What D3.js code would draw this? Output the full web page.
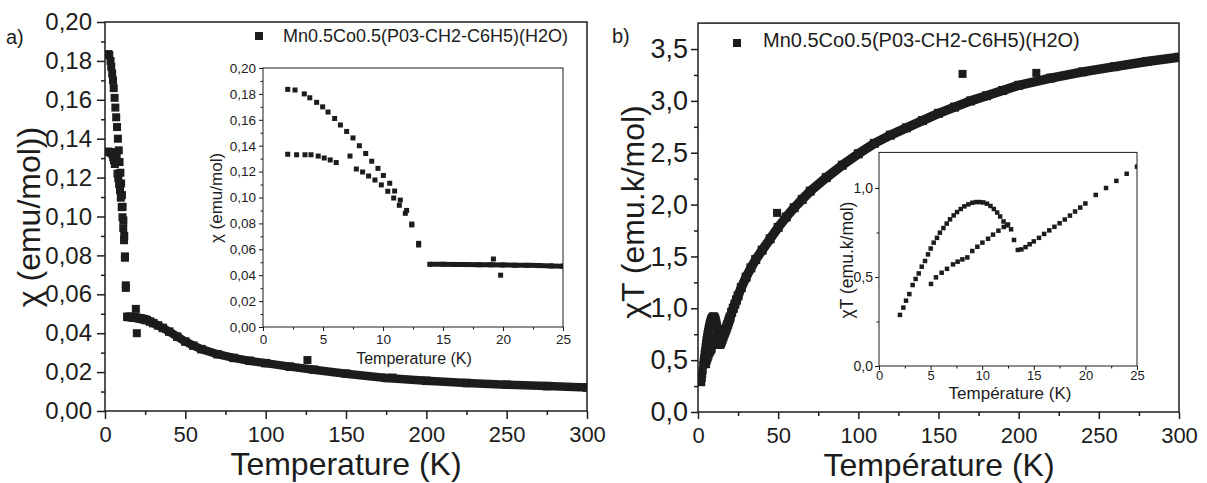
<!DOCTYPE html>
<html>
<head>
<meta charset="utf-8">
<script src="https://cdn.jsdelivr.net/npm/d3@7"></script>
<style>
  body { margin: 0; background: #fff; }
  svg text { font-family: "Liberation Sans", Arial, sans-serif; }
</style>
</head>
<body>
<div id="chart"></div>
<script>
// ---- data ----
// a) chi vs T, low temperature branches (inset + main)
var chiUpperT = [2.06, 2.67, 3.44, 3.9, 4.47, 4.97, 5.42, 5.97, 6.45, 6.97, 7.5, 8.03, 8.56, 9.06, 9.58, 10.03, 10.56, 10.97, 11.44, 11.97, 12.4, 12.97];
var chiUpper  = [0.1835, 0.183, 0.180, 0.177, 0.1735, 0.170, 0.166, 0.161, 0.156, 0.151, 0.146, 0.140, 0.134, 0.128, 0.1225, 0.117, 0.111, 0.105, 0.098, 0.090, 0.0795, 0.0646];
var chiLowerT = [2.06, 2.8, 3.5, 4.0, 4.6, 5.1, 5.6, 6.1, 7.25, 7.78, 8.3, 8.8, 9.33, 9.86, 10.4, 10.89, 11.36, 11.86, 12.4, 12.97];
var chiLower  = [0.1334, 0.133, 0.133, 0.133, 0.132, 0.1305, 0.129, 0.127, 0.132, 0.122, 0.1197, 0.1166, 0.1135, 0.1097, 0.1048, 0.0996, 0.094, 0.0878, 0.0788, 0.0633];
// a) chi vs T above the transition
var chiHighT = [13.9, 15, 16, 17, 18, 19, 20, 21, 22, 23, 24, 25, 26, 28, 30, 33, 36, 40, 45, 50, 55, 60, 70, 80, 90, 100, 115, 130, 150, 175, 200, 225, 250, 275, 300];
var chiHigh  = [0.0484, 0.0484, 0.0483, 0.0482, 0.0481, 0.0480, 0.0479, 0.0477, 0.0476, 0.0474, 0.0472, 0.0470, 0.0467, 0.0460, 0.0452, 0.0440, 0.0427, 0.0408, 0.0382, 0.0357, 0.0336, 0.0318, 0.0292, 0.0273, 0.0258, 0.0246, 0.0228, 0.0212, 0.0192, 0.0170, 0.0155, 0.0144, 0.0135, 0.0128, 0.0121];
// a) stray points
var chiOutT = [19.2, 19.8, 126, 179];
var chiOut  = [0.0525, 0.040, 0.0262, 0.0172];

// b) chiT vs T, low temperature branches
var chiTUpperT = [2.03, 2.36, 2.62, 2.94, 3.26, 3.55, 3.85, 4.14, 4.46, 4.75, 5.01, 5.3, 5.62, 5.9, 6.24, 6.56, 6.88, 7.24, 7.56, 7.92, 8.27, 8.66, 9.04, 9.4, 9.76, 10.1, 10.46, 10.8, 11.13, 11.45, 11.74, 12.07, 12.4, 12.8, 13.08];
var chiTUpper  = [0.287, 0.328, 0.367, 0.404, 0.455, 0.489, 0.52, 0.558, 0.59, 0.627, 0.66, 0.693, 0.72, 0.749, 0.775, 0.8, 0.824, 0.846, 0.865, 0.882, 0.897, 0.908, 0.917, 0.921, 0.921, 0.919, 0.912, 0.899, 0.882, 0.862, 0.84, 0.812, 0.79, 0.768, 0.708];
var chiTLowerT = [5.04, 5.52, 6.07, 6.59, 7.17, 7.62, 8.08, 8.56, 9.04, 9.53, 10.02, 10.57, 11.05, 11.57, 12.09, 12.5];
var chiTLower  = [0.461, 0.498, 0.524, 0.546, 0.571, 0.586, 0.599, 0.61, 0.646, 0.67, 0.693, 0.715, 0.738, 0.76, 0.781, 0.795];
// b) chiT vs T above the transition
var chiTHighT = [13.45, 13.8, 14.2, 14.6, 15, 15.5, 16, 16.5, 17, 17.5, 18, 18.5, 19, 19.5, 20, 21, 22, 23, 24, 25, 27, 30, 33, 36, 40, 45, 50, 55, 60, 65, 70, 80, 90, 100, 110, 120, 130, 140, 150, 160, 170, 180, 190, 200, 220, 240, 260, 280, 300];
var chiTHigh  = [0.652, 0.655, 0.668, 0.684, 0.70, 0.72, 0.742, 0.762, 0.782, 0.802, 0.823, 0.845, 0.868, 0.89, 0.913, 0.961, 1.0, 1.04, 1.08, 1.12, 1.20, 1.30, 1.39, 1.47, 1.56, 1.67, 1.78, 1.88, 1.97, 2.05, 2.13, 2.26, 2.38, 2.49, 2.59, 2.67, 2.74, 2.81, 2.88, 2.94, 3.00, 3.05, 3.10, 3.15, 3.22, 3.28, 3.33, 3.38, 3.42];
// b) stray points
var chiTOutT = [49.3, 165, 211];
var chiTOut  = [1.92, 3.26, 3.27];

// ticks
var tempTicks = [0, 50, 100, 150, 200, 250, 300];
var chiTicks = [0, 0.02, 0.04, 0.06, 0.08, 0.10, 0.12, 0.14, 0.16, 0.18, 0.20];
var chiTTicks = [0, 0.5, 1.0, 1.5, 2.0, 2.5, 3.0, 3.5];
var insetTempTicks = [0, 5, 10, 15, 20, 25];
var insetChiTTicks = [0, 0.5, 1.0];

var legendLabel = 'Mn0.5Co0.5(P03-CH2-C6H5)(H2O)';

// ---- drawing ----
var ink = '#1c1c1c';
var svg = d3.select('#chart').append('svg')
    .attr('width', 1207)
    .attr('height', 483);

var commaFmt = function(spec) {
    var f = d3.format(spec);
    return function(d) { return f(d).replace('.', ','); };
};

function pts(ts, vs) {
    return ts.map(function(t, i) { return {t: t, v: vs[i]}; });
}

var clipId = 0;
function clipTo(x, y) {
    var id = 'clip' + (clipId++);
    svg.append('clipPath').attr('id', id).append('rect')
        .attr('x', x.range()[0]).attr('y', y.range()[1])
        .attr('width', x.range()[1] - x.range()[0])
        .attr('height', y.range()[0] - y.range()[1]);
    return svg.append('g').attr('clip-path', 'url(#' + id + ')');
}

// squares, optionally bridged by a thick line so dense data reads as a band
function squares(g, x, y, data, size, lineW) {
    if (lineW) {
        g.append('path').datum(data)
            .attr('fill', 'none')
            .attr('stroke', ink)
            .attr('stroke-width', lineW)
            .attr('stroke-linejoin', 'round')
            .attr('d', d3.line().x(function(d) { return x(d.t); }).y(function(d) { return y(d.v); }));
    }
    g.selectAll(null).data(data).enter().append('rect')
        .attr('x', function(d) { return x(d.t) - size / 2; })
        .attr('y', function(d) { return y(d.v) - size / 2; })
        .attr('width', size)
        .attr('height', size)
        .attr('fill', ink);
}

function axes(x, y, o) {
    var x0 = x.range()[0], x1 = x.range()[1], y0 = y.range()[0], y1 = y.range()[1];
    var g = svg.append('g');
    g.append('rect')
        .attr('x', x0).attr('y', y1)
        .attr('width', x1 - x0).attr('height', y0 - y1)
        .attr('fill', o.fill || 'none')
        .attr('stroke', ink)
        .attr('stroke-width', o.sw);

    var xm = g.append('g').attr('transform', 'translate(0,' + y0 + ')')
        .call(d3.axisBottom(x).tickValues(o.xMinor).tickSize(o.minor).tickFormat(''));
    var ym = g.append('g').attr('transform', 'translate(' + x0 + ',0)')
        .call(d3.axisLeft(y).tickValues(o.yMinor).tickSize(o.minor).tickFormat(''));
    var xa = g.append('g').attr('transform', 'translate(0,' + y0 + ')')
        .call(d3.axisBottom(x).tickValues(o.xTicks).tickSize(o.major).tickPadding(o.xPad).tickFormat(o.xFmt));
    var ya = g.append('g').attr('transform', 'translate(' + x0 + ',0)')
        .call(d3.axisLeft(y).tickValues(o.yTicks).tickSize(o.major).tickPadding(o.yPad).tickFormat(o.yFmt));

    [xm, ym, xa, ya].forEach(function(a) {
        a.select('.domain').remove();
        a.selectAll('line').attr('stroke', ink).attr('stroke-width', o.sw);
        a.attr('font-family', null);
    });
    xa.attr('font-size', o.xFont).selectAll('text').attr('fill', ink);
    ya.attr('font-size', o.yFont).selectAll('text').attr('fill', ink);
    return g;
}

function label(txt, px, py, size, rot) {
    svg.append('text')
        .attr('transform', 'translate(' + px + ',' + py + ')' + (rot ? ' rotate(-90)' : ''))
        .attr('text-anchor', 'middle')
        .attr('font-size', size)
        .attr('fill', ink)
        .text(txt);
}

function legend(sx, sy, tx, ty, size) {
    svg.append('rect').attr('x', sx - 4).attr('y', sy - 4).attr('width', 8).attr('height', 8).attr('fill', ink);
    svg.append('text').attr('x', tx).attr('y', ty).attr('font-size', size).attr('fill', ink).text(legendLabel);
}

// ===== panel a) =====
var xa = d3.scaleLinear().domain([0, 300]).range([105, 587]);
var ya = d3.scaleLinear().domain([0, 0.2]).range([411, 22]);

var ga = clipTo(xa, ya);
squares(ga, xa, ya, pts(chiHighT, chiHigh), 8.5, 8.5);
squares(ga, xa, ya, pts(chiUpperT, chiUpper), 8);
squares(ga, xa, ya, pts(chiLowerT, chiLower), 8);
squares(ga, xa, ya, pts(chiOutT, chiOut), 8);

axes(xa, ya, {
    sw: 1.5, major: 8, minor: 4, xPad: 7, yPad: 5,
    xTicks: tempTicks, xMinor: d3.range(25, 300, 50),
    yTicks: chiTicks, yMinor: d3.range(0.01, 0.2, 0.02),
    xFmt: d3.format('d'), yFmt: commaFmt('.2f'),
    xFont: 22, yFont: 24
});
label('Temperature (K)', 346, 475, 32);
label('\u03c7 (emu/mol))', 40, 217, 32, true);
svg.append('text').attr('x', 6).attr('y', 44).attr('font-size', 20).attr('fill', ink).text('a)');
legend(259, 36, 283, 42, 18);

// inset a)
var xai = d3.scaleLinear().domain([0, 25]).range([263, 563]);
var yai = d3.scaleLinear().domain([0, 0.2]).range([327, 68]);
axes(xai, yai, {
    sw: 1, fill: '#fff', major: 4, minor: 2.5, xPad: 3, yPad: 3,
    xTicks: insetTempTicks, xMinor: d3.range(2.5, 25, 5),
    yTicks: chiTicks, yMinor: d3.range(0.01, 0.2, 0.02),
    xFmt: d3.format('d'), yFmt: commaFmt('.2f'),
    xFont: 13.5, yFont: 13.5
});
var gai = clipTo(xai, yai);
squares(gai, xai, yai, pts(chiHighT, chiHigh), 5, 5);
squares(gai, xai, yai, pts(chiUpperT, chiUpper), 5);
squares(gai, xai, yai, pts(chiLowerT, chiLower), 5);
squares(gai, xai, yai, pts(chiOutT, chiOut), 5);
label('Temperature (K)', 414, 364, 16);
label('\u03c7 (emu/mol)', 222, 198, 17, true);

// ===== panel b) =====
var xb = d3.scaleLinear().domain([0, 300]).range([698, 1179]);
var yb = d3.scaleLinear().domain([0, 3.75]).range([412, 23.1]);

var gb = clipTo(xb, yb);
squares(gb, xb, yb, pts(chiTHighT, chiTHigh), 9, 9.5);
squares(gb, xb, yb, pts(chiTUpperT, chiTUpper), 8);
squares(gb, xb, yb, pts(chiTLowerT, chiTLower), 8);
squares(gb, xb, yb, pts(chiTOutT, chiTOut), 8);

axes(xb, yb, {
    sw: 1.5, major: 7, minor: 4, xPad: 8, yPad: 3,
    xTicks: tempTicks, xMinor: d3.range(25, 300, 50),
    yTicks: chiTTicks, yMinor: d3.range(0.25, 3.75, 0.5),
    xFmt: d3.format('d'), yFmt: commaFmt('.1f'),
    xFont: 22, yFont: 27
});
label('Temp\u00e9rature (K)', 939, 476, 32);
label('\u03c7T (emu.k/mol)', 644, 212, 32, true);
svg.append('text').attr('x', 612).attr('y', 43).attr('font-size', 20).attr('fill', ink).text('b)');
legend(737, 43, 763, 47, 20);

// inset b)
var xbi = d3.scaleLinear().domain([0, 25]).range([879, 1137]);
var ybi = d3.scaleLinear().domain([0, 1.2]).range([366, 152.4]);
axes(xbi, ybi, {
    sw: 1, fill: '#fff', major: 4, minor: 2.5, xPad: 1, yPad: 2,
    xTicks: insetTempTicks, xMinor: d3.range(2.5, 25, 5),
    yTicks: insetChiTTicks, yMinor: [0.25, 0.75],
    xFmt: d3.format('d'), yFmt: commaFmt('.1f'),
    xFont: 13, yFont: 14
});
var gbi = clipTo(xbi, ybi);
squares(gbi, xbi, ybi, pts(chiTHighT, chiTHigh), 4.5);
squares(gbi, xbi, ybi, pts(chiTUpperT, chiTUpper), 4.5);
squares(gbi, xbi, ybi, pts(chiTLowerT, chiTLower), 4.5);
label('Temp\u00e9rature (K)', 1010, 399, 17);
label('\u03c7T (emu.k/mol)', 853, 260, 17.5, true);
</script>
</body>
</html>
